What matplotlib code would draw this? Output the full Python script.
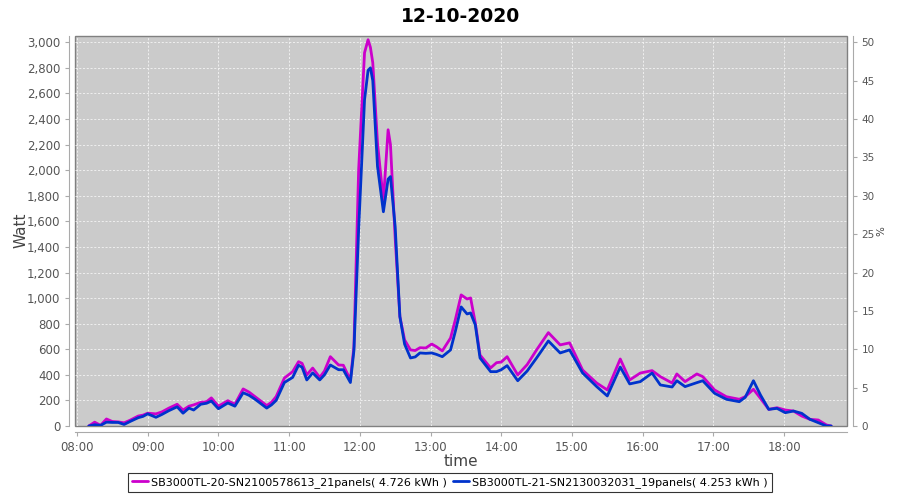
import numpy as np
import matplotlib
matplotlib.use('Agg')
import matplotlib.pyplot as plt
from matplotlib.ticker import FuncFormatter, MultipleLocator

# sample times (hh:mm) and power readings in watt
times = ['08:10', '08:15', '08:20', '08:25', '08:30', '08:35', '08:40', '08:45', '08:52', '08:56',
         '09:00', '09:07', '09:12', '09:18', '09:25', '09:30', '09:35', '09:39', '09:45', '09:50',
         '09:54', '10:00', '10:08', '10:14', '10:21', '10:26', '10:31', '10:36', '10:41', '10:45',
         '10:49', '10:56', '11:03', '11:08', '11:11', '11:15', '11:20', '11:26', '11:30', '11:35',
         '11:42', '11:46', '11:52', '11:55', '11:59', '12:04', '12:07', '12:09', '12:11', '12:15',
         '12:20', '12:24', '12:26', '12:30', '12:34', '12:38', '12:43', '12:47', '12:51', '12:56',
         '13:01', '13:05', '13:10', '13:17', '13:21', '13:26', '13:31', '13:34', '13:38', '13:42',
         '13:51', '13:56', '14:00', '14:05', '14:14', '14:22', '14:30', '14:40', '14:50', '14:58',
         '15:09', '15:21', '15:30', '15:41', '15:49', '15:58', '16:08', '16:15', '16:25', '16:29',
         '16:36', '16:46', '16:51', '17:01', '17:11', '17:22', '17:27', '17:34', '17:40', '17:47',
         '17:54', '18:01', '18:08', '18:15', '18:22', '18:29', '18:36', '18:40']

watt_sn20 = [0, 30, 5, 55, 35, 32, 25, 45, 78, 85,
             100, 95, 110, 140, 170, 125, 155, 165, 185, 190,
             220, 155, 198, 170, 290, 265, 230, 195, 160, 185,
             230, 375, 425, 503, 490, 400, 453, 380, 430, 542,
             477, 475, 360, 620, 2003, 2918, 3020, 2960, 2840, 2214,
             1760, 2316, 2200, 1470, 855, 673, 595, 590, 612, 610,
             641, 620, 587, 688, 829, 1025, 993, 1001, 806, 555,
             454, 495, 500, 542, 399, 480, 595, 730, 634, 650,
             438, 336, 282, 524, 360, 414, 433, 386, 336, 407,
             347, 407, 386, 282, 229, 209, 229, 287, 216, 130,
             143, 125, 117, 78, 52, 47, 8, 0]

watt_sn21 = [0, 10, 5, 30, 28, 28, 12, 35, 65, 75,
             95, 68, 90, 120, 150, 100, 140, 125, 170, 178,
             195, 135, 180, 155, 260, 240, 210, 175, 140, 165,
             200, 340, 380, 475, 460, 360, 415, 360, 400, 477,
             440, 440, 340, 590, 1533, 2550, 2780, 2800, 2700, 2030,
             1675, 1930, 1950, 1559, 855, 640, 532, 540, 571, 568,
             571, 560, 542, 595, 738, 931, 876, 884, 790, 532,
             425, 425, 440, 472, 354, 430, 532, 665, 571, 595,
             415, 308, 235, 461, 329, 347, 414, 321, 305, 354,
             308, 339, 354, 256, 209, 190, 224, 354, 242, 130,
             138, 104, 117, 99, 52, 26, 0, 0]

labels = ['SB3000TL-20-SN2100578613_21panels( 4.726 kWh )',
          'SB3000TL-21-SN2130032031_19panels( 4.253 kWh )']
colors = ['#cc00cc', '#0033cc']

hours = np.array([int(t[:2]) + int(t[3:]) / 60 for t in times])

fig = plt.figure(figsize=(9, 5), dpi=100)
ax = fig.add_axes([75 / 900, 1 - 426 / 500, (847 - 75) / 900, (426 - 35.5) / 500])

ax.set_facecolor('#cbcbcb')
ax.patch.set_edgecolor('#808080')
ax.patch.set_linewidth(1.0)

for series, lab, col in zip([watt_sn20, watt_sn21], labels, colors):
    ax.plot(hours, series, color=col, lw=2.0, label=lab,
            solid_joinstyle='round', solid_capstyle='round')

ax.set_xlim(7.972, 18.89)
ax.set_ylim(0, 3053)
ax.xaxis.set_major_locator(MultipleLocator(1))
ax.xaxis.set_major_formatter(FuncFormatter(lambda v, p: '%02d:00' % round(v)))
ax.yaxis.set_major_locator(MultipleLocator(200))
ax.yaxis.set_major_formatter(FuncFormatter(lambda v, p: '{:,.0f}'.format(v)))
ax.grid(True, color='#f4f4f4', ls=(0, (2.5, 2)), lw=0.6)

for side in ['top', 'right']:
    ax.spines[side].set_visible(False)
for side in ['left', 'bottom']:
    ax.spines[side].set_position(('outward', 4))
    ax.spines[side].set_color('#aaaaaa')
ax.tick_params(colors='#aaaaaa', labelcolor='#555555', labelsize=8.5, length=3, width=0.8)

ax.set_xlabel('time', fontsize=11, color='#444444', labelpad=0)
ax.set_ylabel('Watt', fontsize=11, color='#444444', labelpad=-1)
ax.set_title('12-10-2020', fontsize=13.5, fontweight='bold', pad=10)

# right hand percentage axis
ax2 = ax.twinx()
ax2.set_ylim(0, 50.9)
ax2.yaxis.set_major_locator(MultipleLocator(5))
for side in ['top', 'left', 'bottom']:
    ax2.spines[side].set_visible(False)
ax2.spines['right'].set_position(('outward', 4))
ax2.spines['right'].set_color('#aaaaaa')
ax2.tick_params(colors='#aaaaaa', labelcolor='#555555', labelsize=7.5, length=3, width=0.8)
ax2.set_ylabel('%', fontsize=7.5, color='#444444', labelpad=1)

leg = fig.legend(loc='lower center', bbox_to_anchor=(0.5, 0.005), ncol=2, fontsize=8,
                 frameon=True, fancybox=False, handlelength=1.4, handletextpad=0.3,
                 columnspacing=0.6, borderpad=0.35)
leg.get_frame().set_edgecolor('black')
leg.get_frame().set_linewidth(0.8)

fig.savefig('out.png', dpi=100)
